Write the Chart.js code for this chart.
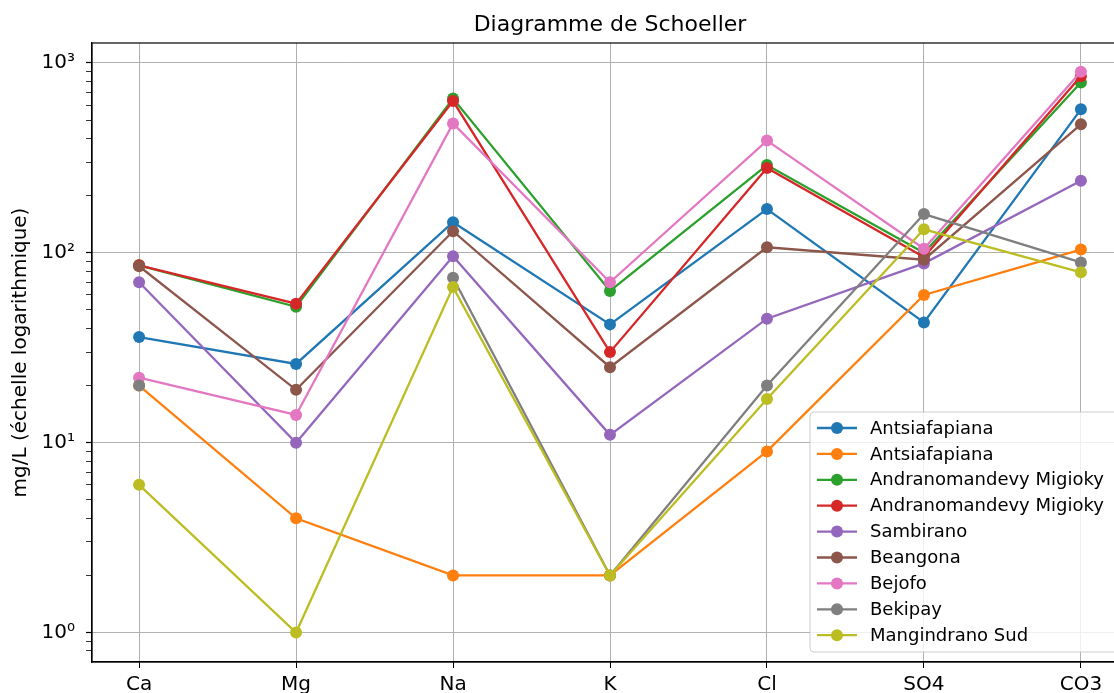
<!DOCTYPE html>
<html>
<head>
<meta charset="utf-8">
<title>Diagramme de Schoeller</title>
<script src="https://cdn.jsdelivr.net/npm/chart.js@4/dist/chart.umd.min.js"></script>
<style>
  html, body { margin: 0; padding: 0; background: #fff; overflow: hidden; }
  #wrap { width: 1114px; height: 693px; overflow: hidden; }
  canvas { display: block; }
</style>
</head>
<body>
<div id="wrap"><canvas id="chart" width="1140" height="693"></canvas></div>
<script>
// ── DATA (mg/L) ──────────────────────────────────────────────────
const IONS = ['Ca', 'Mg', 'Na', 'K', 'Cl', 'SO4', 'CO3'];

const STATIONS = [
  'Antsiafapiana', 'Antsiafapiana', 'Andranomandevy Migioky', 'Andranomandevy Migioky',
  'Sambirano', 'Beangona', 'Bejofo', 'Bekipay', 'Mangindrano Sud'
];

const ANTSIAFAPIANA_1 = [36, 26, 145, 42, 170, 43, 570];
const ANTSIAFAPIANA_2 = [20, 4, 2, 2, 9, 60, 104];
const ANDRANOMANDEVY_1 = [86, 52, 650, 63, 290, 100, 790];
const ANDRANOMANDEVY_2 = [86, 54, 630, 30, 280, 95, 850];
const SAMBIRANO = [70, 10, 96, 11, 45, 88, 240];
const BEANGONA = [85, 19, 130, 25, 107, 92, 475];
const BEJOFO = [22, 14, 480, 70, 390, 105, 900];
const BEKIPAY = [20, null, 74, 2, 20, 160, 89]; // no Mg value -> gap
const MANGINDRANO = [6, 1, 66, 2, 17, 133, 79];

const SERIES = [ANTSIAFAPIANA_1, ANTSIAFAPIANA_2, ANDRANOMANDEVY_1, ANDRANOMANDEVY_2,
  SAMBIRANO, BEANGONA, BEJOFO, BEKIPAY, MANGINDRANO];

// matplotlib tab10
const COLORS = ['#1f77b4', '#ff7f0e', '#2ca02c', '#d62728', '#9467bd',
  '#8c564b', '#e377c2', '#7f7f7f', '#bcbd22'];

const Y_TICKS = [0.8, 0.9, 1, 2, 3, 4, 5, 6, 7, 8, 9, 10, 20, 30, 40, 50, 60, 70, 80, 90,
  100, 200, 300, 400, 500, 600, 700, 800, 900, 1000];
const Y_LABELS = { 1: '10⁰', 10: '10¹', 100: '10²', 1000: '10³' };

const TITLE = 'Diagramme de Schoeller';
const Y_TITLE = 'mg/L (échelle logarithmique)';
const FONT = "'DejaVu Sans', sans-serif";

// ── HELPERS ──────────────────────────────────────────────────────
const isMajor = v => Y_LABELS[v] !== undefined;

const datasets = SERIES.map((vals, i) => ({
  label: STATIONS[i],
  data: vals.map((v, k) => ({ x: k, y: v })),
  borderColor: COLORS[i],
  backgroundColor: COLORS[i],
  borderWidth: 2.3,
  pointRadius: 6,
  pointHoverRadius: 6,
  pointBorderWidth: 0,
  spanGaps: false,
  tension: 0,
  order: -i // later series on top, like matplotlib
}));

// title over the axes, frame (top/right spines) + legend inside the axes
const framePlugin = {
  id: 'frame',
  afterDatasetsDraw(chart) {
    const { ctx, chartArea: a } = chart;
    ctx.save();
    ctx.strokeStyle = '#000';
    ctx.lineWidth = 1.2;
    ctx.strokeRect(a.left, a.top, a.right - a.left, a.bottom - a.top);

    ctx.fillStyle = '#000';
    ctx.font = '22px ' + FONT;
    ctx.textAlign = 'center';
    ctx.textBaseline = 'middle';
    ctx.fillText(TITLE, (a.left + a.right) / 2, 25);

    // legend box
    const x0 = 810, y0 = 412, w = 320, h = 240, r = 4;
    ctx.beginPath();
    ctx.moveTo(x0 + r, y0);
    ctx.lineTo(x0 + w - r, y0);
    ctx.arcTo(x0 + w, y0, x0 + w, y0 + r, r);
    ctx.lineTo(x0 + w, y0 + h - r);
    ctx.arcTo(x0 + w, y0 + h, x0 + w - r, y0 + h, r);
    ctx.lineTo(x0 + r, y0 + h);
    ctx.arcTo(x0, y0 + h, x0, y0 + h - r, r);
    ctx.lineTo(x0, y0 + r);
    ctx.arcTo(x0, y0, x0 + r, y0, r);
    ctx.closePath();
    ctx.fillStyle = 'rgba(255,255,255,0.8)';
    ctx.fill();
    ctx.strokeStyle = '#cccccc';
    ctx.lineWidth = 1;
    ctx.stroke();

    ctx.font = '18px ' + FONT;
    ctx.textBaseline = 'middle';
    ctx.textAlign = 'left';
    chart.data.datasets.forEach((ds, i) => {
      const y = 428 + i * 25.9;
      ctx.strokeStyle = ds.borderColor;
      ctx.lineWidth = 2.3;
      ctx.beginPath();
      ctx.moveTo(817, y);
      ctx.lineTo(857, y);
      ctx.stroke();
      ctx.fillStyle = ds.borderColor;
      ctx.beginPath();
      ctx.arc(837, y, 6, 0, Math.PI * 2);
      ctx.fill();
      ctx.fillStyle = '#000';
      ctx.fillText(ds.label, 870, y + 1);
    });
    ctx.restore();
  }
};

// ── CHART ────────────────────────────────────────────────────────
new Chart(document.getElementById('chart'), {
  type: 'line',
  data: { datasets },
  options: {
    responsive: false,
    animation: false,
    devicePixelRatio: 1,
    layout: { padding: { left: 0, right: 12, top: 43, bottom: 0 } },
    plugins: {
      legend: { display: false },
      tooltip: { enabled: false },
      title: { display: false }
    },
    scales: {
      x: {
        type: 'linear',
        min: -0.3,
        max: 6.3,
        afterBuildTicks: s => { s.ticks = IONS.map((_, i) => ({ value: i })); },
        afterFit: s => { s.height = 31; },
        ticks: {
          autoSkip: false,
          maxRotation: 0,
          padding: 5,
          color: '#000',
          font: { family: FONT, size: 20 },
          callback: v => IONS[v]
        },
        grid: { color: '#b0b0b0', lineWidth: 1, tickLength: 6, tickColor: '#000' },
        border: { display: true, color: '#000', width: 1.2 }
      },
      y: {
        type: 'logarithmic',
        min: 0.713,
        max: 1274,
        afterBuildTicks: s => { s.ticks = Y_TICKS.map(v => ({ value: v })); },
        afterFit: s => { s.width = 92; },
        ticks: {
          autoSkip: false,
          padding: 11,
          color: '#000',
          font: { family: FONT, size: 20 },
          callback: v => Y_LABELS[v] || ''
        },
        grid: {
          color: c => isMajor(c.tick && c.tick.value) ? '#b0b0b0' : 'rgba(0,0,0,0)',
          lineWidth: 1,
          tickLength: 6,
          tickColor: '#000',
          tickWidth: c => isMajor(c.tick && c.tick.value) ? 1.2 : 0.8
        },
        border: { display: true, color: '#000', width: 1.2 },
        title: {
          display: true,
          text: Y_TITLE,
          color: '#000',
          font: { family: FONT, size: 20 },
          padding: { top: 9, bottom: 0 }
        }
      }
    }
  },
  plugins: [framePlugin]
});
</script>
</body>
</html>
